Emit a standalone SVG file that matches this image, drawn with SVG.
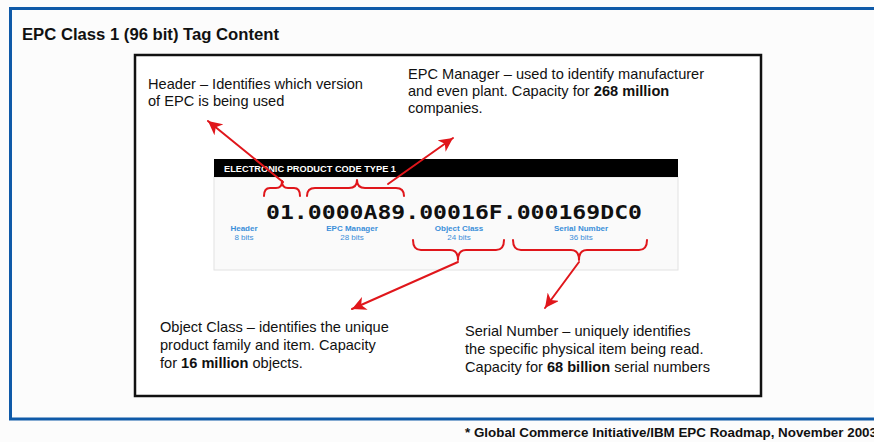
<svg xmlns="http://www.w3.org/2000/svg" width="874" height="442" viewBox="0 0 874 442">
<defs>
<style>
.desc{font-family:"Liberation Sans",Arial,sans-serif;font-size:14.6px;fill:#111}
.b{font-weight:bold}
.lbl{font-family:"Liberation Sans",Arial,sans-serif;font-size:8px;fill:#3a8fd9;text-anchor:middle}
.red{fill:none;stroke:#e0161b;stroke-width:2;stroke-linecap:round;stroke-linejoin:round}
</style>
<marker id="ah" markerUnits="userSpaceOnUse" markerWidth="16" markerHeight="14" refX="14" refY="7" orient="auto">
<path d="M0,0 L14,7 L0,14 L4,7 Z" fill="#e0161b"/>
</marker>
</defs>
<rect x="0" y="0" width="874" height="442" fill="#fcfcfc"/>
<rect x="10.5" y="8.5" width="880" height="410.5" fill="#fcfcfc" stroke="#0f5aa8" stroke-width="3"/>
<text x="22" y="40" font-family="'Liberation Sans',Arial,sans-serif" font-weight="bold" font-size="16" fill="#111" textLength="257" lengthAdjust="spacingAndGlyphs">EPC Class 1 (96 bit) Tag Content</text>
<rect x="135" y="55" width="626" height="341" fill="#ffffff" stroke="#111" stroke-width="2.5"/>

<g id="epc-panel">
<rect x="214" y="177" width="464" height="93" fill="#fafafa" stroke="#e2e2e2" stroke-width="1"/>
<rect x="214" y="159" width="464" height="18" fill="#000"/>
<text x="224" y="172" font-family="'Liberation Sans',Arial,sans-serif" font-weight="bold" font-size="9" fill="#fff" textLength="172" lengthAdjust="spacingAndGlyphs">ELECTRONIC PRODUCT CODE TYPE 1</text>
<text x="266" y="219" font-family="'DejaVu Sans Mono',monospace" font-weight="bold" font-size="20" fill="#111" textLength="376" lengthAdjust="spacingAndGlyphs">01.0000A89.00016F.000169DC0</text>
</g>

<g id="label-header"><text class="lbl b" x="244" y="231">Header</text><text class="lbl" x="244" y="240">8 bits</text></g>
<g id="label-manager"><text class="lbl b" x="352" y="231">EPC Manager</text><text class="lbl" x="352" y="240">28 bits</text></g>
<g id="label-object"><text class="lbl b" x="459" y="231">Object Class</text><text class="lbl" x="459" y="240">24 bits</text></g>
<g id="label-serial"><text class="lbl b" x="581" y="231">Serial Number</text><text class="lbl" x="581" y="240">36 bits</text></g>

<g id="brackets">
<path class="red" d="M264,196 Q264,188 270,188 L276,188 Q282,188 282,181 Q282,188 288,188 L294,188 Q300,188 300,196"/>
<path class="red" d="M307,196 Q307,188 315,188 L349,188 Q357,188 357,180 Q357,188 365,188 L396,188 Q404,188 404,196"/>
<path class="red" d="M413,240 Q413,250 421,250 L450,250 Q458,250 458,260 Q458,250 466,250 L496,250 Q504,250 504,240"/>
<path class="red" d="M513,240 Q513,250 521,250 L571,250 Q579,250 579,260 Q579,250 587,250 L639,250 Q647,250 647,240"/>
</g>

<g id="connectors">
<line class="red" x1="283" y1="182" x2="208" y2="121" marker-end="url(#ah)"/>
<line class="red" x1="388" y1="184" x2="453" y2="138" marker-end="url(#ah)"/>
<line class="red" x1="458" y1="262" x2="352" y2="309" marker-end="url(#ah)"/>
<line class="red" x1="579" y1="262" x2="545" y2="308" marker-end="url(#ah)"/>
</g>

<g id="header-note">
<text class="desc" x="148" y="89">Header – Identifies which version</text>
<text class="desc" x="148" y="106">of EPC is being used</text>
</g>
<g id="manager-note">
<text class="desc" x="408" y="79">EPC Manager – used to identify manufacturer</text>
<text class="desc" x="408" y="96">and even plant. Capacity for <tspan class="b">268 million</tspan></text>
<text class="desc" x="408" y="113">companies.</text>
</g>
<g id="object-note">
<text class="desc" x="160" y="332">Object Class – identifies the unique</text>
<text class="desc" x="160" y="350">product family and item. Capacity</text>
<text class="desc" x="160" y="368">for <tspan class="b">16 million</tspan> objects.</text>
</g>
<g id="serial-note">
<text class="desc" x="465" y="336">Serial Number – uniquely identifies</text>
<text class="desc" x="465" y="354">the specific physical item being read.</text>
<text class="desc" x="465" y="372">Capacity for <tspan class="b">68 billion</tspan> serial numbers</text>
</g>

<text x="465" y="437" font-family="'Liberation Sans',Arial,sans-serif" font-weight="bold" font-size="13" fill="#111" textLength="412" lengthAdjust="spacingAndGlyphs">* Global Commerce Initiative/IBM EPC Roadmap, November 2003</text>
</svg>
